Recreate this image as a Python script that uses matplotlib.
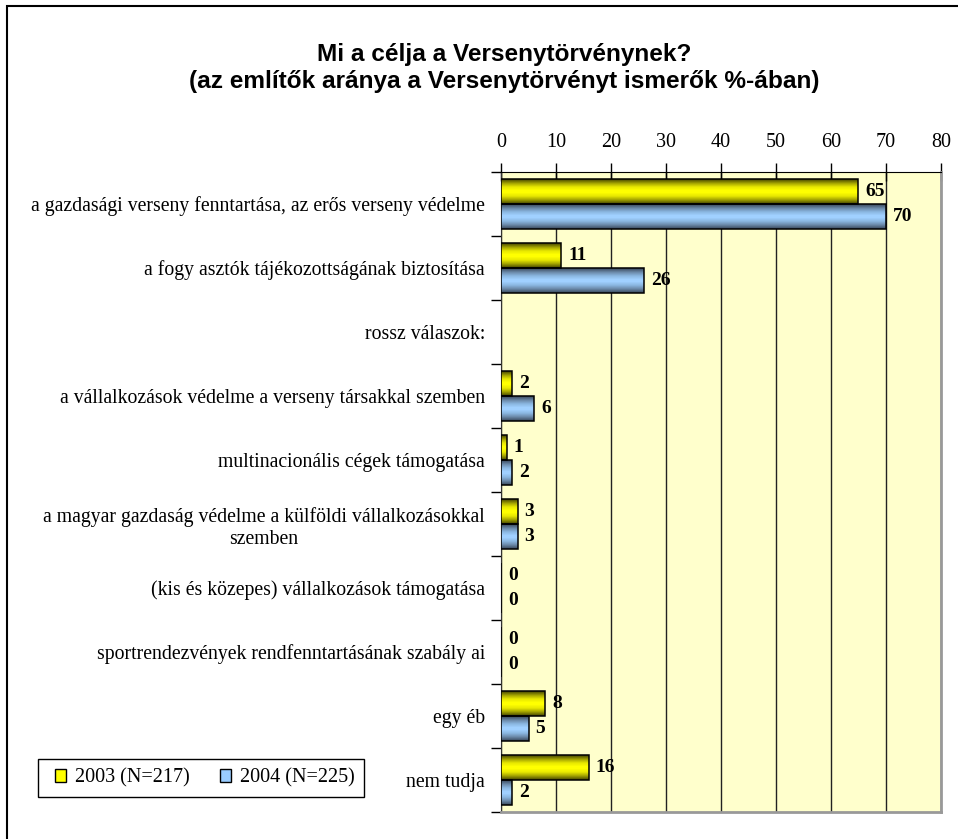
import matplotlib.pyplot as plt
import numpy as np
from matplotlib.patches import Rectangle, Patch
from matplotlib.colors import LinearSegmentedColormap

categories = [
    "a gazdasági verseny fenntartása, az erős verseny védelme",
    "a fogy asztók tájékozottságának biztosítása",
    "rossz válaszok:",
    "a vállalkozások védelme a verseny társakkal szemben",
    "multinacionális cégek támogatása",
    "a magyar gazdaság védelme a külföldi vállalkozásokkal\nszemben",
    "(kis és közepes) vállalkozások támogatása",
    "sportrendezvények rendfenntartásának szabály ai",
    "egy éb",
    "nem tudja",
]
vals_2003 = [65, 11, np.nan, 2, 1, 3, 0, 0, 8, 16]
vals_2004 = [70, 26, np.nan, 6, 2, 3, 0, 0, 5, 2]
series_names = ["2003 (N=217)", "2004 (N=225)"]

serif = "Liberation Serif"
sans = "Liberation Sans"

fig = plt.figure(figsize=(9.58, 8.39), dpi=100)
ax = fig.add_axes([0.523, 0.0322, 0.459, 0.7628])
ax.set_facecolor("#FFFFCC")

y = np.arange(len(categories))
h = 0.39

yellow_cmap = LinearSegmentedColormap.from_list(
    "yl", ["#4A4A00", "#A0A000", "#E6E600", "#FFFF00"])
blue_cmap = LinearSegmentedColormap.from_list(
    "bl", ["#3C4C60", "#6A88A8", "#8AB6E0", "#A0D0FF"])


def draw_series(vals, offset, cmap):
    v = np.nan_to_num(np.array(vals, dtype=float))
    shown = ~np.isnan(np.array(vals, dtype=float))
    n = 12
    # stacked layers, shrinking toward the centre, give the shaded look
    for k in range(n):
        frac = 1 - k / n
        ax.barh(y[shown] + offset, v[shown], height=h * frac,
                color=cmap(k / (n - 1)), linewidth=0, zorder=3)
    bars = ax.barh(y[shown] + offset, v[shown], height=h, fill=False,
                   edgecolor="black", linewidth=1.1, zorder=4)
    for bar, val in zip(bars, v[shown]):
        w = bar.get_width()
        ax.annotate(f"{val:g}", (w, bar.get_y() + bar.get_height() / 2),
                    xytext=(5, 0), textcoords="offset points",
                    va="center", ha="left", fontsize=14, fontweight="bold",
                    family=serif, zorder=5)
    return bars


draw_series(vals_2003, -h / 2, yellow_cmap)
draw_series(vals_2004, h / 2, blue_cmap)

ax.set_xlim(0, 80)
ax.set_ylim(len(categories) - 0.5, -0.5)
ax.set_xticks(np.arange(0, 81, 10))
ax.xaxis.tick_top()
ax.tick_params(axis="x", direction="inout", length=13, width=1,
               labelsize=14.5, pad=7.7)
for lab in ax.get_xticklabels():
    lab.set_family(serif)
ax.grid(axis="x", color="#222222", linewidth=1, zorder=1)

ax.set_yticks(y)
ax.set_yticklabels(categories, family=serif, fontsize=14.2,
                   multialignment="center")
ax.set_yticks(np.arange(len(categories) + 1) - 0.5, minor=True)
ax.tick_params(axis="y", which="major", length=0, pad=11.5)
ax.tick_params(axis="y", which="minor", length=7, width=1, direction="out")

ax.spines["top"].set_color("black")
ax.spines["left"].set_color("#333333")
ax.spines["right"].set_color("#999999")
ax.spines["bottom"].set_color("#999999")
ax.spines["right"].set_linewidth(2)
ax.spines["bottom"].set_linewidth(2)

fig.text(504 / 958, 1 - 61 / 839, "Mi a célja a Versenytörvénynek?", ha="center",
         va="baseline", fontsize=17.6, fontweight="bold", family=sans)
fig.text(504 / 958, 1 - 88 / 839,
         "(az említők aránya a Versenytörvényt ismerők %-ában)",
         ha="center", va="baseline", fontsize=17.6, fontweight="bold",
         family=sans)

# legend: entries without frame, plus a plain box around them
handles = [Patch(facecolor="#FFFF00", edgecolor="black"),
           Patch(facecolor="#99CCFF", edgecolor="black")]
fig.legend(handles, series_names, loc="center left",
           bbox_to_anchor=(55 / 958, 1 - 778 / 839), ncol=2, frameon=False,
           handlelength=0.55, handleheight=0.55, borderpad=0,
           borderaxespad=0, prop={"family": serif, "size": 14.5},
           handletextpad=0.45, columnspacing=1.5)
legend_box = Rectangle((38 / 958, 1 - 797 / 839), 326 / 958, 38 / 839,
                       transform=fig.transFigure, fill=False,
                       edgecolor="black", linewidth=1)
fig.patches.append(legend_box)

frame = Rectangle((7 / 958, 1 - 860 / 839), 1000 / 958, 854 / 839,
                  transform=fig.transFigure, fill=False, edgecolor="black",
                  linewidth=1.5)
fig.patches.append(frame)

fig.savefig("out.png", dpi=100)
